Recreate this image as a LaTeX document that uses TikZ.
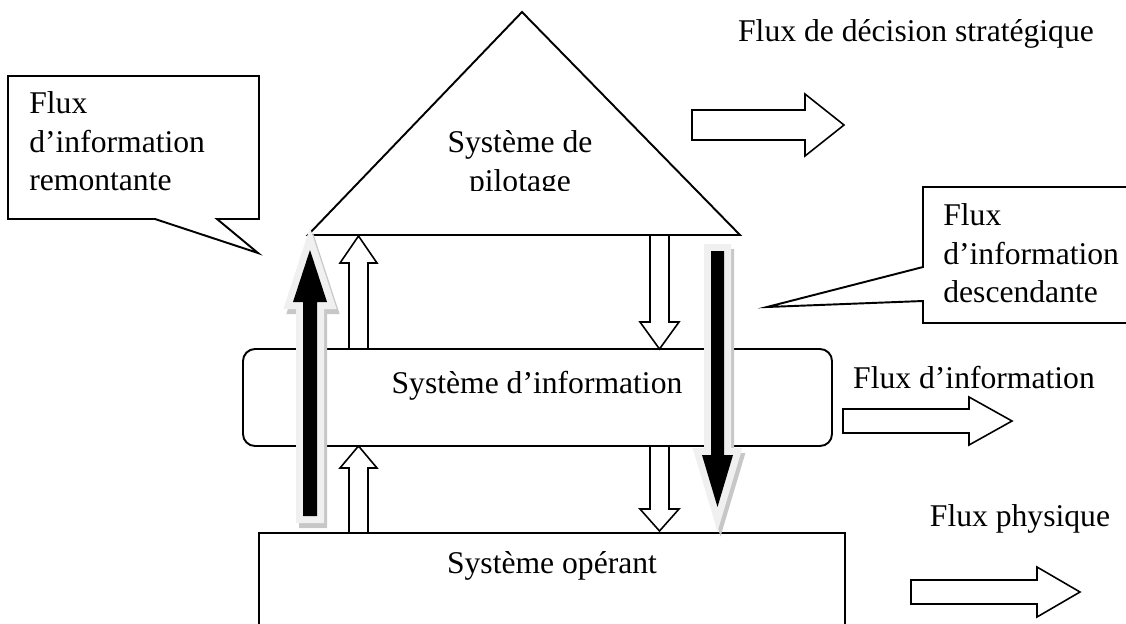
\documentclass[tikz,border=0pt]{standalone}
\usepackage{fontspec}
\setmainfont{Liberation Serif}
\usepackage{tikz}
\usetikzlibrary{calc}
\tikzstyle{txt}=[inner sep=0pt, font=\fontsize{18}{22}\selectfont]
\tikzstyle{outline}=[draw=black, line width=1.1pt, fill=white]
\tikzstyle{hollow}=[draw=black, line width=0.9pt, fill=white]
\tikzstyle{bigshade}=[draw=black!22, fill=black!22, line width=0.28cm, miter limit=10]
\tikzstyle{bigarrow}=[draw=black!6, line width=0.28cm, miter limit=10, postaction={fill=black}]
\begin{document}
\begin{tikzpicture}[x=0.02cm, y=-0.02cm]
\useasboundingbox (0,0) rectangle (1126,623);
% three levels
\draw[outline] (308,235) -- (522,12) -- (740,235) -- cycle;
\draw[outline, rounded corners=0.24cm] (243,349) rectangle (832,446);
\draw[outline] (259,640) -- (259,533) -- (845,533) -- (845,640);
\begin{scope}
\clip (400,100) rectangle (650,190);
\node[txt, anchor=north, align=center] (pilot) at (520,130.4) {Système de\\pilotage};
\end{scope}
\node[txt, anchor=base] (info) at (537,393) {Système d’information};
\node[txt, anchor=base] (oper) at (552,573) {Système opérant};
% callouts
\draw[outline] (8,76) -- (259,76) -- (259,219) -- (217,219) -- (258,253) -- (155,219) -- (8,219) -- cycle;
\node[txt, anchor=north west, align=left] (remont) at (29,91.3) {Flux\\d’information\\remontante};
\draw[outline] (1140,187) -- (923,187) -- (923,267) -- (767,307) -- (923,301) -- (923,323) -- (1140,323);
\node[txt, anchor=north west, align=left] (descend) at (943,203.3) {Flux\\d’information\\descendante};
% small flows between levels
\draw[hollow] (349,349) -- (349,263) -- (340,263) -- (358.5,236) -- (377,263) -- (368,263) -- (368,349) -- cycle;
\draw[hollow] (349,533) -- (349,468) -- (340,468) -- (358.5,446) -- (377,468) -- (368,468) -- (368,533) -- cycle;
\draw[hollow] (650,235) -- (650,322) -- (640,322) -- (659.5,349) -- (679,322) -- (669,322) -- (669,235) -- cycle;
\draw[hollow] (650,446) -- (650,509) -- (640,509) -- (659.5,531) -- (679,509) -- (669,509) -- (669,446) -- cycle;
% flows to the right
\node[txt, anchor=base] (decis) at (916,41) {Flux de décision stratégique};
\draw[hollow] (692,110) -- (805,110) -- (805,94) -- (844,125) -- (805,156) -- (805,140) -- (692,140) -- cycle;
\node[txt, anchor=base] (finfo) at (974,388) {Flux d’information};
\draw[hollow] (843,409) -- (969,409) -- (969,397) -- (1012,421) -- (969,445) -- (969,433) -- (843,433) -- cycle;
\node[txt, anchor=base] (fphys) at (1020,526) {Flux physique};
\draw[hollow] (911,580) -- (1037,580) -- (1037,567) -- (1080,592) -- (1037,617) -- (1037,604) -- (911,604) -- cycle;
% big up and down arrows
\draw[bigshade, shift={(3,5)}] (303,516) -- (303,302) -- (293,302) -- (310,250) -- (327,302) -- (317,302) -- (317,516) -- cycle;
\draw[bigarrow] (303,516) -- (303,302) -- (293,302) -- (310,250) -- (327,302) -- (317,302) -- (317,516) -- cycle;
\draw[bigshade, shift={(3,5)}] (711,251) -- (711,455) -- (702,455) -- (717.5,507) -- (733,455) -- (724,455) -- (724,251) -- cycle;
\draw[bigarrow] (711,251) -- (711,455) -- (702,455) -- (717.5,507) -- (733,455) -- (724,455) -- (724,251) -- cycle;
\end{tikzpicture}
\end{document}
